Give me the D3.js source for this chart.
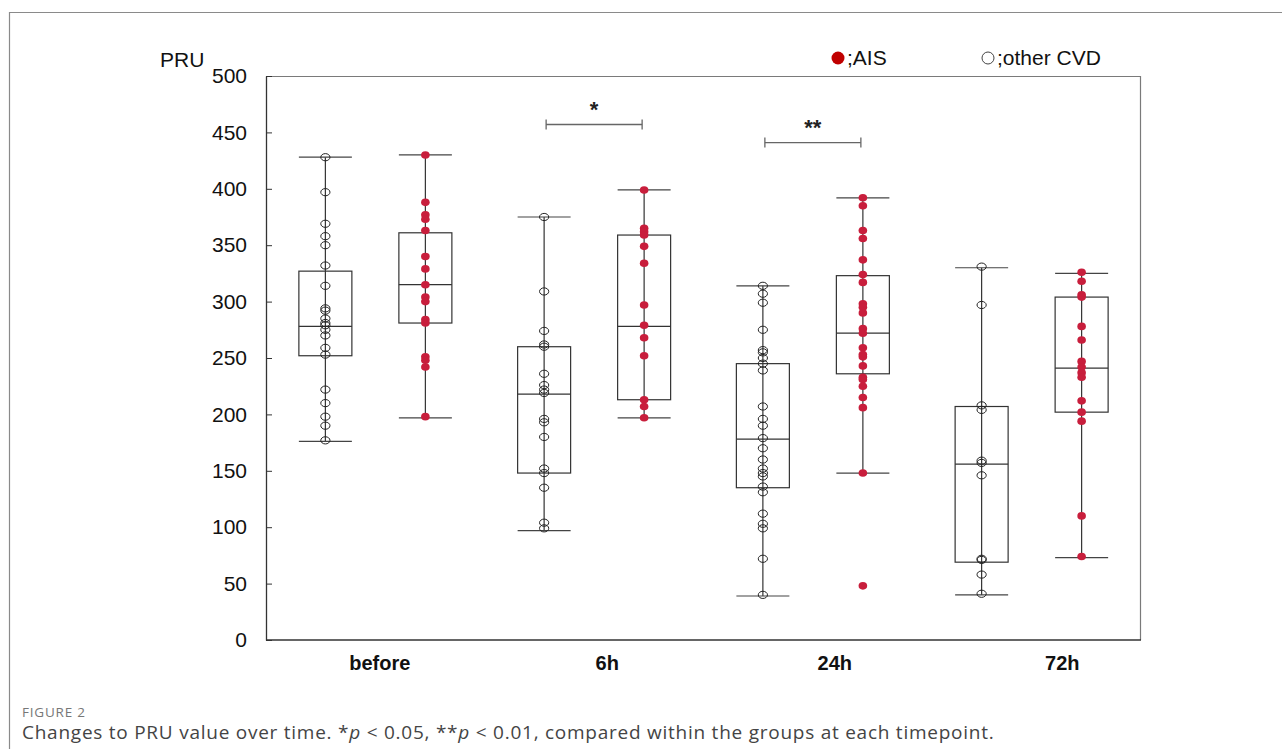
<!DOCTYPE html>
<html>
<head>
<meta charset="utf-8">
<script src="https://cdn.jsdelivr.net/npm/d3@7"></script>
<style>
  html, body { margin: 0; padding: 0; background: #fff; }
  #chart { width: 1282px; height: 749px; }
  text { font-family: "Liberation Sans", Arial, sans-serif; }
</style>
</head>
<body>
<div id="chart"></div>
<script>
// PRU before / after, two groups per timepoint, box + raw points.
var categories = ['before', '6h', '24h', '72h'];
var groups = ['other', 'AIS'];
var yTicks = [0, 50, 100, 150, 200, 250, 300, 350, 400, 450, 500];

// box stats: [whiskerLow, q1, median, q3, whiskerHigh]
var boxOther = [
    [176, 252, 278, 327, 428],
    [97, 148, 218, 260, 375],
    [39, 135, 178, 245, 314],
    [40, 69, 156, 207, 330]
];
var boxAIS = [
    [197, 281, 315, 361, 430],
    [197, 213, 278, 359, 399],
    [148, 236, 272, 323, 392],
    [73, 202, 241, 304, 325]
];

// individual patients
var ptsOther = [
    [428, 397, 369, 358, 350, 332, 314, 294, 292, 285, 281, 279, 275, 270, 259, 253, 222, 210, 198, 190, 177],
    [375, 309, 274, 262, 260, 236, 226, 222, 219, 196, 193, 180, 152, 148, 135, 104, 99],
    [314, 307, 299, 275, 257, 255, 250, 245, 239, 207, 196, 190, 179, 170, 160, 152, 148, 145, 136, 131, 112, 103, 99, 72, 40],
    [331, 297, 208, 204, 159, 157, 146, 72, 71, 58, 41]
];
var ptsAIS = [
    [430, 388, 377, 373, 363, 340, 329, 315, 304, 300, 284, 281, 251, 248, 242, 198],
    [399, 365, 362, 359, 349, 334, 297, 279, 268, 252, 213, 207, 197],
    [392, 385, 363, 356, 337, 324, 317, 298, 295, 290, 276, 272, 259, 253, 251, 243, 233, 231, 225, 215, 206, 148, 48],
    [326, 318, 306, 304, 278, 266, 247, 242, 237, 233, 212, 202, 194, 110, 74]
];

// within-timepoint comparisons
var sigCats = ['6h', '24h'];
var sigValues = [457, 441];
var sigLabels = ['*', '**'];

(function () {
    var W = 1282, H = 749;
    var margin = { top: 76, right: 141, bottom: 109, left: 266 };
    var innerW = W - margin.left - margin.right;
    var innerH = H - margin.top - margin.bottom;

    var red = '#c81e3c';
    var ink = '#333';

    var svg = d3.select('#chart').append('svg')
        .attr('width', W).attr('height', H)
        .attr('viewBox', '0 0 ' + W + ' ' + H);

    // outer figure frame (cropped at right/bottom)
    svg.append('path')
        .attr('d', 'M9.5,' + H + 'V12.5H' + W)
        .attr('fill', 'none').attr('stroke', '#8a8a8a').attr('stroke-width', 1.2);

    var g = svg.append('g')
        .attr('transform', 'translate(' + margin.left + ',' + margin.top + ')');

    var x0 = d3.scaleBand().domain(categories).range([0, innerW]);
    var bw = x0.bandwidth();
    var x1 = d3.scalePoint().domain(groups).range([bw / 2 - 50, bw / 2 + 50]);
    var xLab = d3.scalePoint().domain(categories).range([innerW * 0.13, innerW * 0.91]);
    var y = d3.scaleLinear().domain([0, 500]).range([innerH, 0]);

    // plot frame: top + right in grey
    g.append('path')
        .attr('d', 'M0,0.5H' + (innerW - 0.5) + 'V' + innerH)
        .attr('fill', 'none').attr('stroke', '#7a7a7a').attr('stroke-width', 1.2);

    // y axis, ticks point inward
    var yAxis = g.append('g')
        .call(d3.axisLeft(y).tickValues(yTicks).tickSizeInner(-6).tickSizeOuter(0).tickPadding(19));
    yAxis.select('.domain').attr('stroke', ink).attr('stroke-width', 1.3);
    yAxis.selectAll('.tick line').attr('stroke', ink);
    yAxis.selectAll('text')
        .attr('font-size', 21).attr('fill', '#111')
        .style('font-family', '"Liberation Sans", Arial, sans-serif');

    // x axis line + category labels
    g.append('line')
        .attr('x1', 0).attr('x2', innerW)
        .attr('y1', innerH).attr('y2', innerH)
        .attr('stroke', ink).attr('stroke-width', 1.3);
    g.selectAll('text.cat')
        .data(categories).enter().append('text')
        .attr('class', 'cat')
        .attr('x', function (d) { return xLab(d); })
        .attr('y', innerH + 30)
        .attr('text-anchor', 'middle')
        .attr('font-size', 20).attr('font-weight', 'bold').attr('fill', '#111')
        .text(function (d) { return d; });

    // PRU axis title
    svg.append('text')
        .attr('x', 160).attr('y', 67)
        .attr('font-size', 21).attr('fill', '#111')
        .text('PRU');

    var boxW = 53;

    function drawGroup(grp, boxes, pts) {
        categories.forEach(function (cat, i) {
            var cx = x0(cat) + x1(grp);
            var b = boxes[i];
            var bg = g.append('g');
            // whisker line
            bg.append('line')
                .attr('x1', cx).attr('x2', cx)
                .attr('y1', y(b[0])).attr('y2', y(b[4]))
                .attr('stroke', ink).attr('stroke-width', 1.2);
            // caps
            [b[0], b[4]].forEach(function (v) {
                bg.append('line')
                    .attr('x1', cx - boxW / 2).attr('x2', cx + boxW / 2)
                    .attr('y1', y(v)).attr('y2', y(v))
                    .attr('stroke', '#444').attr('stroke-width', 1.2);
            });
            // box
            bg.append('rect')
                .attr('x', cx - boxW / 2).attr('width', boxW)
                .attr('y', y(b[3])).attr('height', y(b[1]) - y(b[3]))
                .attr('fill', 'none')
                .attr('stroke', ink).attr('stroke-width', 1.2);
            bg.append('line')
                .attr('x1', cx - boxW / 2).attr('x2', cx + boxW / 2)
                .attr('y1', y(b[2])).attr('y2', y(b[2]))
                .attr('stroke', ink).attr('stroke-width', 1.2);
            // points
            bg.selectAll('ellipse')
                .data(pts[i]).enter().append('ellipse')
                .attr('cx', cx)
                .attr('cy', function (d) { return y(d); })
                .attr('rx', grp === 'AIS' ? 4.3 : 4.6)
                .attr('ry', grp === 'AIS' ? 3.8 : 3.6)
                .attr('fill', grp === 'AIS' ? red : 'none')
                .attr('stroke', grp === 'AIS' ? 'none' : '#222')
                .attr('stroke-width', 1);
        });
    }
    drawGroup('other', boxOther, ptsOther);
    drawGroup('AIS', boxAIS, ptsAIS);

    // significance brackets
    sigCats.forEach(function (cat, i) {
        var c = x0(cat) + bw / 2;
        var half = 48;
        var yy = y(sigValues[i]);
        var sg = g.append('g').attr('stroke', '#666').attr('stroke-width', 1.3);
        sg.append('line').attr('x1', c - half).attr('x2', c + half).attr('y1', yy).attr('y2', yy);
        sg.append('line').attr('x1', c - half).attr('x2', c - half).attr('y1', yy - 5).attr('y2', yy + 5);
        sg.append('line').attr('x1', c + half).attr('x2', c + half).attr('y1', yy - 5).attr('y2', yy + 5);
        g.append('text')
            .attr('x', c).attr('y', yy - 8)
            .attr('text-anchor', 'middle')
            .attr('font-size', 22).attr('font-weight', 'bold').attr('fill', '#222')
            .text(sigLabels[i]);
    });

    // legend
    var lg = svg.append('g').attr('font-size', 21).attr('fill', '#111');
    lg.append('circle').attr('cx', 838).attr('cy', 58).attr('r', 6.5).attr('fill', '#c00000');
    lg.append('text').attr('x', 847).attr('y', 65).text(';AIS');
    lg.append('circle').attr('cx', 988).attr('cy', 58).attr('r', 6)
        .attr('fill', 'none').attr('stroke', '#444').attr('stroke-width', 1);
    lg.append('text').attr('x', 997).attr('y', 65).text(';other CVD');

    // caption
    svg.append('text')
        .attr('x', 22).attr('y', 717)
        .attr('font-size', 13.5).attr('fill', '#777')
        .attr('letter-spacing', 0.8)
        .style('font-family', '"Open Sans", sans-serif')
        .text('FIGURE 2');
    var cap = svg.append('text')
        .attr('x', 22).attr('y', 739)
        .attr('font-size', 19).attr('fill', '#444')
        .attr('letter-spacing', 0.75)
        .style('font-family', '"Open Sans", sans-serif');
    cap.append('tspan').text('Changes to PRU value over time. *');
    cap.append('tspan').attr('font-style', 'italic').text('p');
    cap.append('tspan').text(' < 0.05, **');
    cap.append('tspan').attr('font-style', 'italic').text('p');
    cap.append('tspan').text(' < 0.01, compared within the groups at each timepoint.');
})();
</script>
</body>
</html>
